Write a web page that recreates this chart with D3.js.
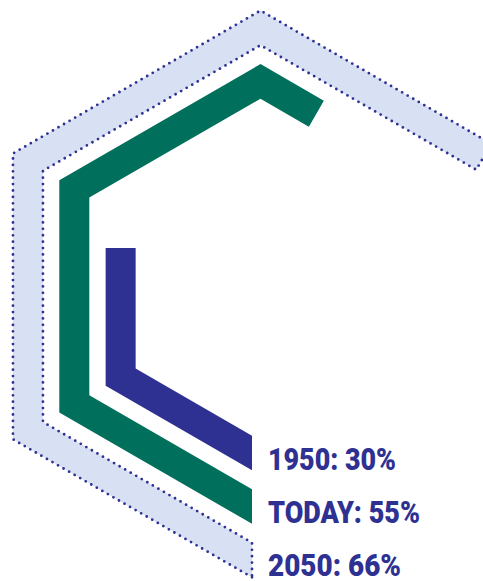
<!DOCTYPE html>
<html>
<head>
<meta charset="utf-8">
<script src="https://cdn.jsdelivr.net/npm/d3@7"></script>
<style>
  html, body { margin: 0; padding: 0; background: #ffffff; }
  svg { display: block; }
</style>
</head>
<body>
<div id="chart"></div>
<script>
// ---- data ----
const periods = ["1950", "TODAY", "2050"];
const shares = [30, 55, 66];            // percent
const projected = [false, false, true];  // 2050 is a projection

// ---- layout / style (not data) ----
const W = 483, H = 581;
const cx = 260.5, cy = 296.4;
const ringRadius = [161.5, 215, 268.5];   // hexagon vertex radius of each band centre line
const bandWidth = 30;
const cutX = 252;
const bandColors = ["#2e3192", "#006f5b", "#d8e1f3"];
const dotColor = "#2e3192";
const textColor = "#2e3192";
const labelWidths = [128, 152, 133];

const svg = d3.select("#chart").append("svg")
  .attr("width", W).attr("height", H);

// percent -> position along hexagon perimeter, in edge units (0..6), starting at bottom vertex, clockwise
const perim = d3.scaleLinear().domain([0, 100]).range([0, 6]);

const cos30 = Math.cos(Math.PI / 6);
function vertex(k, r) {
  const a = (90 + 60 * k) * Math.PI / 180;
  return [cx + r * Math.cos(a), cy + r * Math.sin(a)];
}

function bandPolygon(rc, w, pct) {
  const rOut = rc + (w / 2) / cos30;
  const rIn = rc - (w / 2) / cos30;
  const t = perim(pct);
  const k = Math.min(Math.floor(t), 5);
  const f = t - k;
  const a = vertex(k, rc), b = vertex(k + 1, rc);
  const P = [a[0] + f * (b[0] - a[0]), a[1] + f * (b[1] - a[1])];
  const len = Math.hypot(b[0] - a[0], b[1] - a[1]);
  const u = [(b[0] - a[0]) / len, (b[1] - a[1]) / len];
  let n = [u[1], -u[0]];
  if ((P[0] - cx) * n[0] + (P[1] - cy) * n[1] < 0) n = [-n[0], -n[1]];
  const Eout = [P[0] + n[0] * w / 2, P[1] + n[1] * w / 2];
  const Ein = [P[0] - n[0] * w / 2, P[1] - n[1] * w / 2];
  const yAt = r => cy + r - (cx - cutX) * 0.5 / cos30;
  const Sout = [cutX, yAt(rOut)];
  const Sin = [cutX, yAt(rIn)];
  const outer = [Sout];
  for (let i = 1; i <= k; i++) outer.push(vertex(i, rOut));
  outer.push(Eout);
  const inner = [Ein];
  for (let i = k; i >= 1; i--) inner.push(vertex(i, rIn));
  inner.push(Sin);
  return outer.concat(inner);
}

const line = d3.line().curve(d3.curveLinearClosed);

const order = d3.range(periods.length).reverse();
const g = svg.append("g");
order.forEach(i => {
  const pts = bandPolygon(ringRadius[i], bandWidth, shares[i]);
  g.append("path")
    .attr("d", line(pts))
    .attr("fill", bandColors[i])
    .attr("stroke", projected[i] ? dotColor : "none")
    .attr("stroke-width", projected[i] ? 2.8 : 0)
    .attr("stroke-dasharray", projected[i] ? "0 6.4" : null)
    .attr("stroke-linecap", "round")
    .attr("stroke-linejoin", "round");
});

// labels
const labelY = d3.scalePoint().domain(periods).range([470, 576]);
svg.append("g").selectAll("text")
  .data(periods)
  .join("text")
  .attr("x", 268)
  .attr("y", d => labelY(d))
  .attr("fill", textColor)
  .attr("font-family", "Roboto, 'Liberation Sans', sans-serif")
  .attr("font-weight", 900)
  .attr("font-size", 32)
  .attr("textLength", (d, i) => labelWidths[i])
  .attr("lengthAdjust", "spacingAndGlyphs")
  .text((d, i) => `${d}: ${shares[i]}%`);
</script>
</body>
</html>
